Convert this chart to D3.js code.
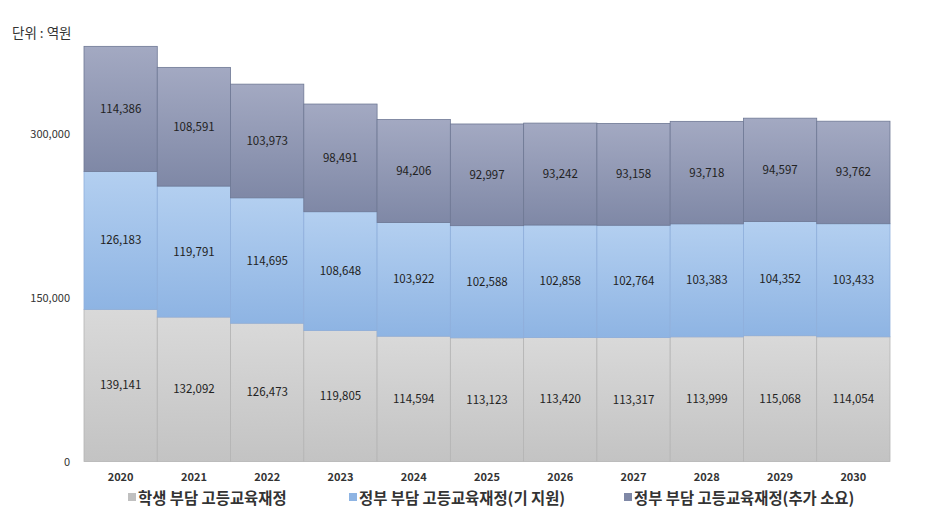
<!DOCTYPE html>
<html><head><meta charset="utf-8">
<script src="https://cdn.jsdelivr.net/npm/d3@7"></script>
<style>body{margin:0;background:#fff}svg{display:block}text{font-family:"Noto Sans CJK KR","Open Sans",sans-serif}</style>
</head><body><svg id="c" width="927" height="521"></svg>
<script>
const years = ["2020","2021","2022","2023","2024","2025","2026","2027","2028","2029","2030"];
const student = [139141,132092,126473,119805,114594,113123,113420,113317,113999,115068,114054];
const govExisting = [126183,119791,114695,108648,103922,102588,102858,102764,103383,104352,103433];
const govAdditional = [114386,108591,103973,98491,94206,92997,93242,93158,93718,94597,93762];
const seriesNames = ["학생 부담 고등교육재정","정부 부담 고등교육재정(기 지원)","정부 부담 고등교육재정(추가 소요)"];
const yTicks = [0,150000,300000];

const svg = d3.select("#c");
const x = d3.scaleBand().domain(years).range([84,890]).padding(0);
const y = d3.scaleLinear().domain([0,150000]).range([461.5,297.5]);

const defs = svg.append("defs");
const grads = [["gS","#d9d9d9","#c3c3c3"],["gE","#b3cff0","#8eb4e3"],["gA","#a3a9c2","#7f88a6"]];
grads.forEach(([id,a,b])=>{
  const g = defs.append("linearGradient").attr("id",id).attr("x1",0).attr("y1",0).attr("x2",0).attr("y2",1);
  g.append("stop").attr("offset","0%").attr("stop-color",a);
  g.append("stop").attr("offset","100%").attr("stop-color",b);
});
const strokes = ["#b4b4b4","#8eaedb","#6e7894"];

const data = years.map((yr,i)=>({year:yr, v:[student[i],govExisting[i],govAdditional[i]]}));
const keys = [0,1,2];
const stack = d3.stack().keys(keys).value((d,k)=>d.v[k]);
const stacked = stack(data);

stacked.forEach((layer,li)=>{
  const g = svg.append("g");
  g.selectAll("rect").data(layer).join("rect")
    .attr("x",d=>x(d.data.year))
    .attr("y",d=>y(d[1]))
    .attr("width",x.bandwidth())
    .attr("height",d=>y(d[0])-y(d[1]))
    .attr("fill",`url(#${grads[li][0]})`)
    .attr("stroke",strokes[li]).attr("stroke-width",0.8);
});
stacked.forEach((layer,li)=>{
  svg.append("g").selectAll("text").data(layer).join("text")
    .attr("x",d=>x(d.data.year)+x.bandwidth()/2)
    .attr("y",d=>(y(d[0])+y(d[1]))/2+4)
    .attr("text-anchor","middle").attr("font-size",11.5).attr("fill","#222")
    .text(d=>d3.format(",")(d.data.v[li]));
});

svg.append("g").selectAll("text").data(yTicks).join("text")
  .attr("x",70).attr("y",d=>y(d)+4).attr("text-anchor","end")
  .attr("font-size",11).attr("fill","#333").text(d=>d3.format(",")(d));

svg.append("g").selectAll("text").data(years).join("text")
  .attr("x",d=>x(d)+x.bandwidth()/2).attr("y",481).attr("text-anchor","middle")
  .attr("font-size",11).attr("font-weight","bold").attr("fill","#333").text(d=>d);

svg.append("text").attr("x",12).attr("y",38).attr("font-size",13.5).attr("fill","#333").text("단위 : 역원");

const legX = [128,349,624];
const legCol = ["#c0c0c0","#8eb4e3","#7f88a6"];
seriesNames.forEach((n,i)=>{
  svg.append("rect").attr("x",legX[i]).attr("y",493).attr("width",8).attr("height",8).attr("fill",legCol[i]);
  svg.append("text").attr("x",legX[i]+10).attr("y",504).attr("font-size",15.4).attr("font-weight","bold").attr("fill","#333").text(n);
});
</script></body></html>
